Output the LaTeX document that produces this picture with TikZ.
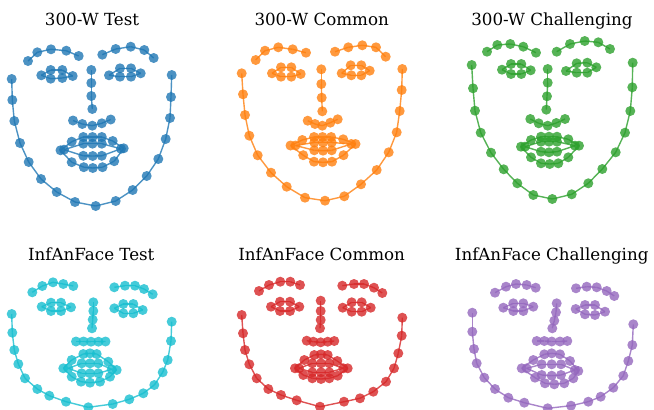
\documentclass[tikz,border=0pt]{standalone}
\usepackage{fontspec}
\setmainfont{DejaVu Serif}

\definecolor{tabblue}{HTML}{1F77B4}
\definecolor{taborange}{HTML}{FF7F0E}
\definecolor{tabgreen}{HTML}{2CA02C}
\definecolor{tabcyan}{HTML}{17BECF}
\definecolor{tabred}{HTML}{D62728}
\definecolor{tabpurple}{HTML}{9467BD}

\tikzset{
	lmline/.style={line width=1.4pt, opacity=0.8},
	lmdot/.style={fill opacity=0.8},
	paneltitle/.style={font=\fontsize{16.7}{20}\selectfont, anchor=base, inner sep=0pt},
}

% 68 landmarks: prefix, colour, list of x/y
\newcommand{\drawface}[3]{%
	\foreach \x/\y [count=\k] in {#3}
		\coordinate (#1\k) at (\x,\y);
	\foreach \fa/\fb/\fc in {1/17/0,18/22/0,23/27/0,28/31/0,32/36/0,37/42/1,43/48/1,49/60/1,61/68/1}
	{
		\pgfmathtruncatemacro\fe{\fb-1}
		\foreach \k in {\fa,...,\fe}
		{
			\pgfmathtruncatemacro\fn{\k+1}
			\draw[lmline, #2] (#1\k) -- (#1\fn);
		}
		\ifnum\fc=1 \draw[lmline, #2] (#1\fb) -- (#1\fa); \fi
	}
	\foreach \k in {1,...,68}
		\fill[lmdot, #2] (#1\k) circle [radius=5pt];
}

\begin{document}
\begin{tikzpicture}[x=1pt, y=-1pt]
	\useasboundingbox (0,0) rectangle (654,410);

	\node[paneltitle] (ta) at (92,25) {300-W Test};
	\node[paneltitle] (tb) at (321.7,25) {300-W Common};
	\node[paneltitle] (tc) at (552,25) {300-W Challenging};
	\node[paneltitle] (td) at (91.3,260) {InfAnFace Test};
	\node[paneltitle] (te) at (321.7,260) {InfAnFace Common};
	\node[paneltitle] (tf) at (551.7,260) {InfAnFace Challenging};

	% 300-W Test
	\drawface{a}{tabblue}{11.7/79,12.3/100,14.3/121,20/143,28.7/162,41/179,56.7/192,75/202,95.7/206,115.7/201,132.7/190,146.7/176,158.3/159,165.7/139,170/118,171/97,171.7/75,
		28/61,37.3/52.3,51/49.3,66.3/50.7,78.7/56,
		102.3/54.7,115.7/49,130.7/46.7,144.3/50,153.7/58,
		91.3/70,91.3/83,91.3/96,92.3/109,
		73/120.5,82.3/124,92.3/125.7,101.8/123.3,110.7/119.5,
		41.3/75.3,50.7/70,62.3/70,72.7/76,62.3/78,50.7/78.7,
		109/75.3,120/68.3,131/68.3,140.7/73.3,131/76.7,120/76.7,
		60.5/150.3,71.7/141.7,83.3/137,92.5/137,101.8/137,112.7/141,123.7/148.3,114.2/161.2,102.5/167.2,92.8/168,83.8/167.2,71.7/162.2,
		64/149.7,83.3/143.7,92.5/143.7,101.8/143.7,121/148.8,101.8/155.8,92.7/156,83.3/155.8}

	% 300-W Common
	\drawface{b}{taborange}{241.7/73.3,243/94.3,245/115,249.3/135.7,257.7/155.3,271/172.7,286.7/186.7,305/197.7,325/200.7,344.3/196.3,361/184.3,376.7/170,388.7/152.3,396.7/132.3,399.7/111,401.7/90,402.3/69,
		255.7/60,265/50.7,278.3/47.3,292.7/49.3,306/52.7,
		335/51.7,348.3/47.3,362.3/45.3,376/47.3,385.7/56.7,
		321.3/69.3,321.3/84,321.7/97.7,322.3/111.3,
		307.7/120.7,315/124,322.3/125.7,330.3/122.7,337.7/119.3,
		272/73.3,281/67.3,291.3/67.3,300.7/74,291.3/76.7,281/76.7,
		341.7/73.3,350.7/65.3,361.3/65.3,369.7/70.7,361.3/75.3,351.3/75.3,
		290.5/145.5,302.3/140,314/137,322.5/137,331.2/137,343.2/139.3,355.5/144,343.5/155.2,332/161.7,323/162.3,314/161.7,303.2/155.2,
		295.5/145.5,314.3/142.5,323/142.5,331.7/142.5,351.3/144,331.7/150.3,323/150.7,314.3/150.3}

	% 300-W Challenging
	\drawface{c}{tabgreen}{471.7/65,473/88.3,475/110.7,480.7/132.7,491/152.7,503.7/169.3,517.3/183.3,533.3/195,552.3/199,571.7/194.3,588.3/183.3,602.3/169,615.7/152.3,625/132.7,630.3/111,632.3/87.3,632.7/62.7,
		487/51.7,497.3/45,510.3/44,523.3/46.7,536/52.7,
		556.7/51.7,570/44,584.7/41,598.3/42.3,610/49,
		547.7/69,547.7/82.7,547/96.3,546.3/109.7,
		530.3/119,538.7/123.3,547.7/125.7,556.3/123,565/119,
		502/69.7,511/64,521.3/64,530.7/70.3,521.3/74,511/74,
		566/71,576.7/63.3,587.3/62.7,596.3/67.3,587.3/72.7,576.7/72.7,
		521/146.7,531/140,541/136.7,549/136.7,557/136.7,568.3/139.3,579/145.7,568.3/157.3,558.3/163.3,549.7/164,541/163.3,531/157.3,
		525/146.7,541/141.7,549/141.7,557/141.7,575/145.7,557/151.7,549/152.3,541/151.7}

	% InfAnFace Test
	\drawface{d}{tabcyan}{11.7/314,12.3/332.7,14.3/350,18.3/364,25/378.3,37.3/389,49.3/395.7,66/401.7,88.3/407.3,112.7/404,129.3/399.3,143.3/393.3,154.3/385,162.7/372.3,167.7/360,171/341,171.7/321.7,
		32.3/292.3,42.3/286,53/282.3,63.3/284,73.3/286,
		114.3/287.3,125/285.7,135/285.7,144/289,152.7/294.3,
		93.3/302.3,93.3/311,92.7/319.7,92/328.3,
		76/341.5,83.5/341.5,91/341.7,98.5/341.7,105.5/341.5,
		41.7/306.7,51/302.7,61/302.7,71/307.3,61/311,51/311,
		114.3/308.3,123.3/304,133.3/304,142.7/310,133.3/313.3,123.3/313.3,
		63.3/368.3,71.7/360,83.3/354,90/353.3,96.7/354,108.3/361.7,116.7/370,110/376.7,100/381.7,90/382.7,81/381.7,71.7/376.7,
		68.3/368.3,81.7/363.3,90/363.3,98.3/363.3,111.7/369.3,98.3/373.3,90/373.3,81.7/373.3}

	% InfAnFace Common
	\drawface{e}{tabred}{241.7/315,243/333.3,245/350,249.3/364.3,256.7/378.3,268.3/389,281/395,296.7/400.3,320/406.7,344/401.7,360/398.3,373.3/391.7,386/381.7,394/368.3,398.3/353.3,401.7/335.7,402.3/317.7,
		259/291,269/285,280.3/281.7,290.3/281.7,300/285,
		342.3/285.7,354/284,364/284,374/287.7,382.3/293,
		320.7/300.7,320.7/311,320.7/320,320/328.3,
		306.7/340.7,313.3/341.7,320.7/342.3,327.7/341.7,334.3/341,
		271/306.7,280/301.7,290/301.7,299.3/306.7,290/311,280/311,
		342.7/307.7,351.7/302.3,361.7/302.3,370.7/307.7,361.7/311.7,351.7/311.7,
		295/368.3,304.3/360,314.3/355,321/354.3,327.7/355,337.3/361,347.7/368.3,337.7/375.7,329.3/378.3,321/379,312.3/378.3,303.3/375,
		299/368.3,312.3/363.3,321/363.3,329.3/363.3,343.3/368.3,329.3/372.3,321/372.3,312.3/372.3}

	% InfAnFace Challenging
	\drawface{f}{tabpurple}{472.3/312.7,472.3/331.7,474/349,476.7/363.3,484.3/377.7,495/389,508.3/397.7,524.3/402.7,547.7/408.3,571/405.7,588.3/401.7,600.7/396.7,613.3/387.7,623.3/375.7,628.3/361,632.3/345,633.3/324.3,
		495/292.7,506/286.7,516/284,526.7/285,535.7/287.7,
		576/288.3,586.7/286.7,596.7/287.3,606.7/291,614.3/296,
		556.7/303.3,556/312.3,554.3/320.7,552.3/328.3,
		536.7/341,544.3/341,551.7/341.5,560/341.5,567.3/341,
		503.3/307.7,513.3/303.3,523.3/303.3,533.3/306.7,523.3/311,513.3/311,
		575.7/309,585/305,595/305,605/311.7,595/315,585/314.3,
		521.7/368.3,533.3/360,544.3/354.3,551.7/353.3,560/354.3,570/361,578.3/371,573.3/378.3,564.3/383.3,554.3/384.3,545/383.3,535/377.7,
		526.7/368.3,541.7/364.3,551.7/364.3,561/364.3,575/370,561/375,551.7/375.7,541.7/375}
\end{tikzpicture}
\end{document}
